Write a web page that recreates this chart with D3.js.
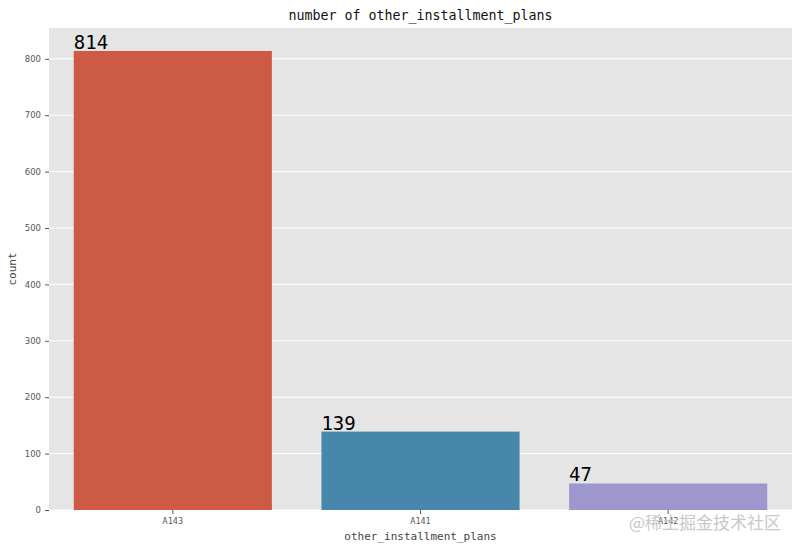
<!DOCTYPE html>
<html>
<head>
<meta charset="utf-8">
<script src="https://cdn.jsdelivr.net/npm/d3@7"></script>
<style>
  body { margin: 0; background: #fff; }
  text { font-family: "DejaVu Sans Mono", monospace; }
</style>
</head>
<body>
<div id="chart"></div>
<script>
// data
var categories = ["A143", "A141", "A142"];
var counts = [814, 139, 47];
var barColors = ["#cc5a45", "#4787ab", "#9d97cd"];
var yTicks = [0, 100, 200, 300, 400, 500, 600, 700, 800];

var svgWidth = 799;
var svgHeight = 549;
var margin = { top: 28, right: 7, bottom: 39, left: 49 };
var width = svgWidth - margin.left - margin.right;
var height = svgHeight - margin.top - margin.bottom;

var svg = d3.select("#chart").append("svg")
  .attr("width", svgWidth)
  .attr("height", svgHeight);

var chart = svg.append("g").attr("transform", `translate(${margin.left}, ${margin.top})`);

// background
chart.append("rect").attr("width", width).attr("height", height).attr("fill", "#e5e5e5");

var x = d3.scaleBand().domain(categories).range([0, width]).paddingInner(0.2).paddingOuter(0.1);
var y = d3.scaleLinear().domain([0, d3.max(counts) * 1.05]).range([height, 0]);

// gridlines
chart.selectAll(".grid").data(yTicks).enter().append("line")
  .attr("x1", 0).attr("x2", width)
  .attr("y1", d => y(d)).attr("y2", d => y(d))
  .attr("stroke", "#fff").attr("stroke-width", 1);

// bars
chart.selectAll(".bar").data(counts).enter().append("rect")
  .attr("x", (d, i) => x(categories[i]))
  .attr("y", d => y(d))
  .attr("width", x.bandwidth())
  .attr("height", d => height - y(d))
  .attr("fill", (d, i) => barColors[i]);

// value labels
chart.selectAll(".val").data(counts).enter().append("text")
  .attr("x", (d, i) => x(categories[i]))
  .attr("y", d => y(d) - 2)
  .attr("font-size", 19)
  .attr("fill", "#000")
  .text(d => d);

// axes
var leftAxis = d3.axisLeft(y).tickValues(yTicks).tickSize(4).tickPadding(4);
var bottomAxis = d3.axisBottom(x).tickSize(4).tickPadding(4);

var gy = chart.append("g").call(leftAxis);
var gx = chart.append("g").attr("transform", `translate(0, ${height})`).call(bottomAxis);
[gy, gx].forEach(function(g) {
  g.select(".domain").remove();
  g.selectAll(".tick line").attr("stroke", "#555");
  g.selectAll(".tick text").attr("fill", "#555").attr("font-size", 8.5)
    .style("font-family", "DejaVu Sans, sans-serif");
});
gx.selectAll(".tick text").style("font-family", "DejaVu Sans Mono, monospace");

// titles
svg.append("text")
  .attr("x", margin.left + width / 2).attr("y", 20)
  .attr("text-anchor", "middle").attr("font-size", 13.3).attr("fill", "#111")
  .text("number of other_installment_plans");

svg.append("text")
  .attr("x", margin.left + width / 2).attr("y", 540)
  .attr("text-anchor", "middle").attr("font-size", 11).attr("fill", "#444")
  .text("other_installment_plans");

svg.append("text")
  .attr("transform", `translate(16, ${margin.top + height / 2}) rotate(-90)`)
  .attr("text-anchor", "middle").attr("font-size", 11).attr("fill", "#444")
  .text("count");

// watermark
svg.append("text")
  .attr("x", 781).attr("y", 529)
  .attr("text-anchor", "end").attr("font-size", 17).attr("fill", "#c8c8c8")
  .style("font-family", "Noto Sans CJK SC, sans-serif")
  .text("@稀土掘金技术社区");
</script>
</body>
</html>
